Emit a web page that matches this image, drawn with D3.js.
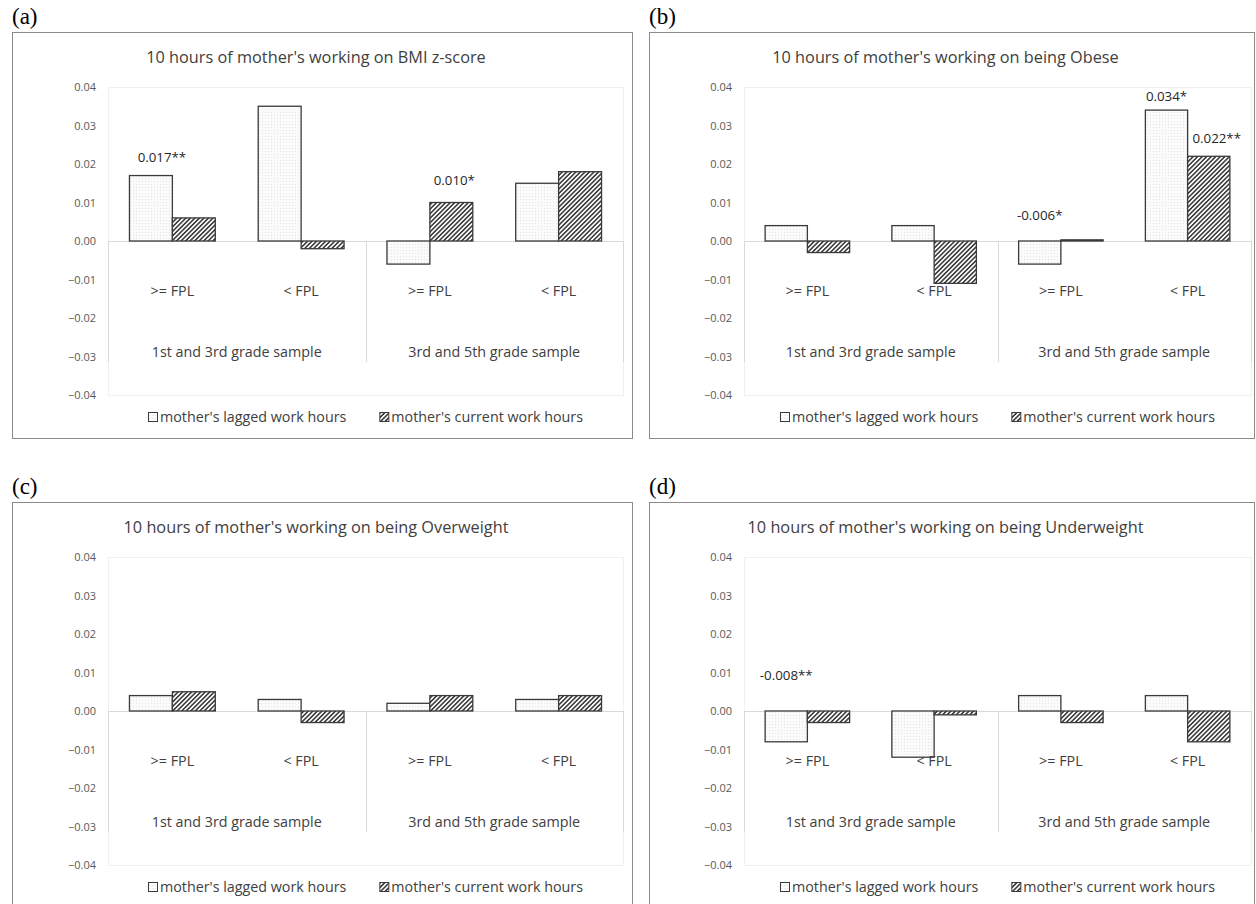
<!DOCTYPE html>
<html lang="en">
<head>
  <meta charset="UTF-8">
  <title>10 hours of mother's working</title>
  <script src="https://cdn.jsdelivr.net/npm/d3@7"></script>
  <style>
    html, body { margin: 0; padding: 0; background: #fff; }
    svg { display: block; }
    .panel-label { font-family: "Liberation Serif", "Times New Roman", serif; font-size: 23px; fill: #000; }
    .title { font-family: "Open Sans", sans-serif; font-size: 16.3px; fill: #404040; }
    .tick { font-family: "Open Sans", sans-serif; font-size: 11px; fill: #595959; }
    .cat, .grp, .legend { font-family: "Open Sans", sans-serif; font-size: 14.3px; fill: #404040; }
    .sig { font-family: "Open Sans", sans-serif; font-size: 13.3px; fill: #262626; }
  </style>
</head>
<body>
<svg id="canvas" width="1256" height="904"></svg>

<script>
  // ---- data ----
  let categories = [">= FPL", "< FPL", ">= FPL", "< FPL"];
  let groups = ["1st and 3rd grade sample", "3rd and 5th grade sample"];
  let seriesNames = ["mother's lagged work hours", "mother's current work hours"];
  let yTicks = [0.04, 0.03, 0.02, 0.01, 0.00, -0.01, -0.02, -0.03, -0.04];

  let panelLabels = ["(a)", "(b)", "(c)", "(d)"];
  let panelTitles = [
    "10 hours of mother's working on BMI z-score",
    "10 hours of mother's working on being Obese",
    "10 hours of mother's working on being Overweight",
    "10 hours of mother's working on being Underweight"
  ];

  let bmiLagged = [0.017, 0.035, -0.006, 0.015];
  let bmiCurrent = [0.006, -0.002, 0.010, 0.018];
  let obeseLagged = [0.004, 0.004, -0.006, 0.034];
  let obeseCurrent = [-0.003, -0.011, 0.0003, 0.022];
  let overLagged = [0.004, 0.003, 0.002, 0.003];
  let overCurrent = [0.005, -0.003, 0.004, 0.004];
  let underLagged = [-0.008, -0.012, 0.004, 0.004];
  let underCurrent = [-0.003, -0.001, -0.003, -0.008];

  // significance labels: which panel / category / series, and the text
  let sigPanel = [0, 0, 1, 1, 1, 3];
  let sigCategory = [0, 2, 2, 3, 3, 0];
  let sigSeries = [0, 1, 0, 0, 1, 0];
  let sigText = ["0.017**", "0.010*", "-0.006*", "0.034*", "0.022**", "-0.008**"];

  let lagged = [bmiLagged, obeseLagged, overLagged, underLagged];
  let current = [bmiCurrent, obeseCurrent, overCurrent, underCurrent];

  // ---- layout ----
  let boxX = [12, 649, 12, 649];
  let boxY = [32, 32, 502, 502];
  let boxW = [620, 605, 620, 605];
  let boxH = 406;
  let plotL = [108, 744, 108, 744];
  let plotR = [623, 1251, 623, 1251];
  let sigLift = [18, 22, 26, 14, 18, 36];   // px above bar top / zero line
  let sigShift = [11, 3, 0, 0, 8, 0];       // px right of bar centre

  let canvas = d3.select('#canvas');

  // patterns for the two series
  let defs = canvas.append('defs');
  let dots = defs.append('pattern')
    .attr('id', 'dots').attr('patternUnits', 'userSpaceOnUse')
    .attr('width', 3).attr('height', 3);
  dots.append('rect').attr('width', 3).attr('height', 3).attr('fill', '#fbfbfb');
  dots.append('rect').attr('x', 1).attr('y', 1).attr('width', 1).attr('height', 1).attr('fill', '#e4e4e4');

  let hatch = defs.append('pattern')
    .attr('id', 'hatch').attr('patternUnits', 'userSpaceOnUse')
    .attr('width', 3.2).attr('height', 3.2)
    .attr('patternTransform', 'rotate(45)');
  hatch.append('rect').attr('width', 3.2).attr('height', 3.2).attr('fill', '#fff');
  hatch.append('line').attr('x1', 0.8).attr('y1', 0).attr('x2', 0.8).attr('y2', 3.2)
    .attr('stroke', '#2b2b2b').attr('stroke-width', 1.45);

  let fills = ['url(#dots)', 'url(#hatch)'];

  let drawPanel = (p) => {
    let g = canvas.append('g');
    let top = boxY[p] + 55, bottom = boxY[p] + 363;

    g.append('text').attr('class', 'panel-label')
      .attr('x', boxX[p]).attr('y', boxY[p] - 8).text(panelLabels[p]);

    g.append('rect')
      .attr('x', boxX[p] + 0.5).attr('y', boxY[p] + 0.5)
      .attr('width', boxW[p]).attr('height', boxH)
      .attr('fill', '#fff').attr('stroke', '#8a8a8a');

    g.append('text').attr('class', 'title')
      .attr('x', boxX[p] + boxW[p] / 2 - 6).attr('y', boxY[p] + 25).attr('dy', '0.36em')
      .attr('text-anchor', 'middle').text(panelTitles[p]);

    let y = d3.scaleLinear().domain([-0.04, 0.04]).range([bottom, top]);
    let x0 = d3.scaleBand().domain(d3.range(categories.length))
      .range([plotL[p], plotR[p]]).paddingInner(1 / 3).paddingOuter(1 / 6);
    let x1 = d3.scaleBand().domain([0, 1]).range([0, x0.bandwidth()]);
    let step = x0.step();

    // faint plot area outline
    g.append('rect')
      .attr('x', plotL[p] + 0.5).attr('y', top + 0.5)
      .attr('width', plotR[p] - plotL[p]).attr('height', bottom - top)
      .attr('fill', 'none').attr('stroke', '#f0f0f0');

    // y axis labels
    let yAxis = d3.axisLeft(y).tickValues(yTicks).tickFormat(d3.format('.2f')).tickSize(0).tickPadding(12);
    let ya = g.append('g').attr('transform', `translate(${plotL[p]},0)`).call(yAxis);
    ya.select('.domain').remove();
    ya.selectAll('text').attr('class', 'tick').attr('font-family', null).attr('font-size', null).attr('fill', null);

    // zero line and category separators
    let y0 = y(0);
    g.append('line')
      .attr('x1', plotL[p]).attr('x2', plotR[p])
      .attr('y1', Math.round(y0) + 0.5).attr('y2', Math.round(y0) + 0.5)
      .attr('stroke', '#d9d9d9');
    [0, 2, 4].forEach(k => {
      let sx = Math.round(plotL[p] + k * step) + 0.5;
      g.append('line').attr('x1', sx).attr('x2', sx)
        .attr('y1', y0).attr('y2', y0 + 121).attr('stroke', '#d9d9d9');
    });

    // bars
    [lagged[p], current[p]].forEach((vals, s) => {
      g.selectAll(null).data(vals).enter().append('rect')
        .attr('x', (d, i) => x0(i) + x1(s))
        .attr('y', d => y(Math.max(0, d)))
        .attr('width', x1.bandwidth())
        .attr('height', d => Math.abs(y(d) - y0))
        .attr('fill', fills[s])
        .attr('stroke', '#3a3a3a').attr('stroke-width', 1.3);
    });

    // category and group labels
    g.selectAll(null).data(categories).enter().append('text')
      .attr('class', 'cat').attr('text-anchor', 'middle').attr('dy', '0.36em')
      .attr('x', (d, i) => x0(i) + x0.bandwidth() / 2)
      .attr('y', y0 + 50).text(d => d);
    g.selectAll(null).data(groups).enter().append('text')
      .attr('class', 'grp').attr('text-anchor', 'middle').attr('dy', '0.36em')
      .attr('x', (d, i) => plotL[p] + (2 * i + 1) * step)
      .attr('y', y0 + 111).text(d => d);

    // significance labels
    sigPanel.forEach((sp, k) => {
      if (sp !== p) return;
      let v = [lagged[p], current[p]][sigSeries[k]][sigCategory[k]];
      g.append('text').attr('class', 'sig').attr('text-anchor', 'middle').attr('dy', '0.36em')
        .attr('x', x0(sigCategory[k]) + x1(sigSeries[k]) + x1.bandwidth() / 2 + sigShift[k])
        .attr('y', y(Math.max(0, v)) - sigLift[k])
        .text(sigText[k]);
    });

    // legend, centred under the plot area
    let leg = g.append('g');
    let gap = 33;
    let cursor = 0;
    seriesNames.forEach((name, s) => {
      let item = leg.append('g').attr('transform', `translate(${cursor},0)`);
      item.append('rect').attr('x', 0.5).attr('y', -4.5).attr('width', 9).attr('height', 9)
        .attr('fill', fills[s]).attr('stroke', '#3a3a3a');
      let t = item.append('text').attr('class', 'legend').attr('x', 12).attr('dy', '0.36em').text(name);
      cursor += 12 + t.node().getComputedTextLength() + gap;
    });
    let legW = cursor - gap;
    leg.attr('transform', `translate(${(plotL[p] + plotR[p]) / 2 - legW / 2},${bottom + 22})`);
  };

  d3.range(4).forEach(drawPanel);
</script>
</body>
</html>
